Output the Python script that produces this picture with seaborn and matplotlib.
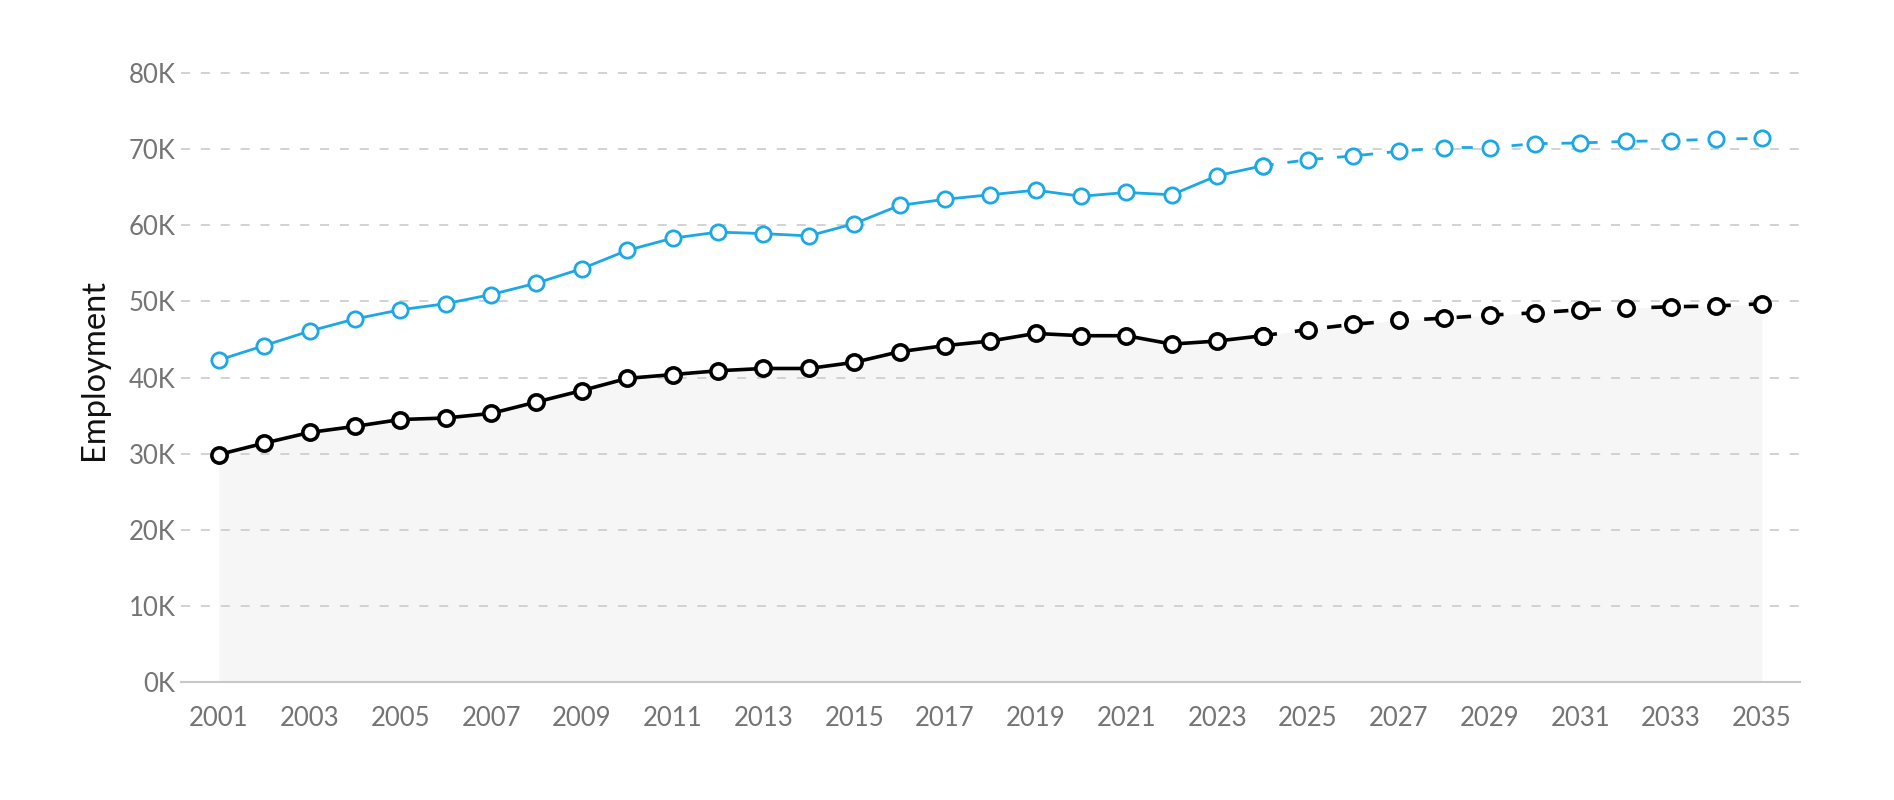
import numpy as np
import pandas as pd
import matplotlib
matplotlib.use('Agg')
import matplotlib.pyplot as plt
import seaborn as sns
from matplotlib.ticker import FuncFormatter

years = list(range(2001, 2036))
region = [42.3, 44.2, 46.1, 47.7, 48.9, 49.7, 50.9, 52.4, 54.3, 56.7,
          58.3, 59.1, 58.9, 58.6, 60.2, 62.6, 63.4, 64.0, 64.6, 63.8,
          64.3, 64.0, 66.5, 67.8, 68.6, 69.1, 69.7, 70.2, 70.2, 70.7,
          70.8, 71.0, 71.1, 71.3, 71.4]
local = [29.9, 31.4, 32.8, 33.6, 34.5, 34.7, 35.3, 36.8, 38.3, 39.9,
         40.4, 40.9, 41.2, 41.2, 42.0, 43.4, 44.2, 44.8, 45.8, 45.5,
         45.5, 44.4, 44.8, 45.5, 46.3, 47.0, 47.5, 47.8, 48.2, 48.5,
         48.9, 49.1, 49.3, 49.4, 49.7]
last_actual = 2024

df = pd.DataFrame({'Year': years,
                   'Region': [v * 1000 for v in region],
                   'Local': [v * 1000 for v in local]})

sns.set_style('white')
plt.rcParams['font.family'] = ['Lato', 'DejaVu Sans']

fig = plt.figure(figsize=(18.94, 8.0), dpi=100)
ax = fig.add_axes([0.0956, 0.147, 0.855, 0.781])

# faint grey area under the black series
ax.fill_between(df['Year'], 0, df['Local'], color='#f6f6f6', zorder=0, lw=0)

blue = '#1ba8e4'
hist = df[df['Year'] <= last_actual]
proj = df[df['Year'] >= last_actual]

for data, ls in [(hist, '-'), (proj, (0, (4, 5)))]:
    sns.lineplot(data=data, x='Year', y='Region', ax=ax, color=blue, lw=2,
                 linestyle=ls, marker='o', markersize=11, markerfacecolor='white',
                 markeredgecolor=blue, markeredgewidth=2, zorder=3)
    sns.lineplot(data=data, x='Year', y='Local', ax=ax, color='black', lw=2.6,
                 linestyle=ls, marker='o', markersize=11, markerfacecolor='white',
                 markeredgecolor='black', markeredgewidth=2.6, zorder=4)

ax.set_xlim(2000.17, 2035.85)
ax.set_ylim(0, 82000)
ax.set_yticks(np.arange(0, 80001, 10000))
ax.yaxis.set_major_formatter(FuncFormatter(lambda v, p: f'{int(v / 1000)}K'))
ax.set_xticks(years[::2])
ax.tick_params(axis='both', length=0, labelsize=18.5, labelcolor='#747474')
ax.tick_params(axis='x', pad=17)
ax.tick_params(axis='y', pad=4)

ax.grid(axis='y', color='#cfcfcf', linestyle=(0, (5, 6)), lw=1.3, zorder=1)
ax.set_axisbelow(True)
for s in ['top', 'right', 'left']:
    ax.spines[s].set_visible(False)
ax.spines['bottom'].set_color('#c8c8c8')
ax.spines['bottom'].set_linewidth(1.5)

ax.set_xlabel('')
ax.set_ylabel('Employment', fontsize=23.5, color='#111111', labelpad=14)

fig.savefig('out.png', dpi=100, facecolor='white')
